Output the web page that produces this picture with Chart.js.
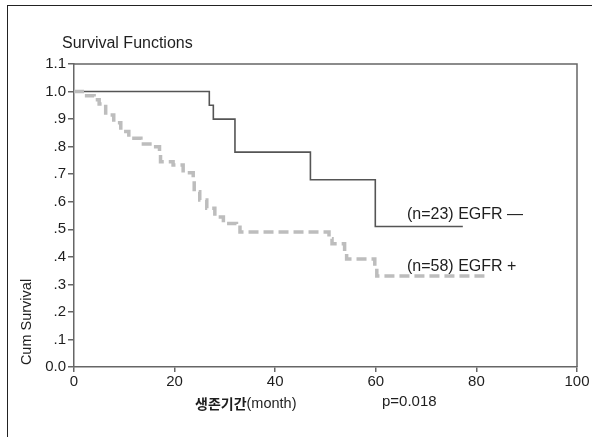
<!DOCTYPE html>
<html>
<head>
<meta charset="utf-8">
<script src="https://cdn.jsdelivr.net/npm/chart.js@4"></script>
<style>
  html, body { margin: 0; padding: 0; background: #fff; }
  #wrap { width: 592px; height: 437px; }
</style>
</head>
<body>
<div id="wrap"><canvas id="c" width="592" height="437"></canvas></div>
<script>
// ---- data ----
const egfrNegMonths   = [0, 26.9, 27.7, 32.0, 47.0, 59.9, 77.3];
const egfrNegSurvival = [1.0, 0.95, 0.90, 0.78, 0.68, 0.51, 0.51];

const egfrPosMonths   = [0, 2.0, 4.0, 5.0, 6.3, 7.9, 9.3, 10.9, 13.3, 15.8, 17.0, 17.2, 19.7, 21.7, 23.7, 23.9, 25.0, 26.4, 28.0, 29.7, 32.3, 33.0, 50.7, 51.3, 53.8, 54.2, 59.8, 60.2, 82.0];
const egfrPosSurvival = [1.0, 0.985, 0.97, 0.955, 0.915, 0.887, 0.855, 0.83, 0.81, 0.80, 0.78, 0.745, 0.733, 0.705, 0.68, 0.636, 0.606, 0.576, 0.545, 0.521, 0.515, 0.49, 0.466, 0.447, 0.42, 0.392, 0.36, 0.33, 0.33];

const xTickLabels = ["0", "20", "40", "60", "80", "100"];
const yTickLabels = ["0.0", ".1", ".2", ".3", ".4", ".5", ".6", ".7", ".8", ".9", "1.0", "1.1"];

const seriesLabels = ["(n=23) EGFR \u2014", "(n=58) EGFR +"];
const chartTitle = "Survival Functions";
const yTitle = "Cum Survival";
const xTitleBold = "생존기간";
const xTitleRest = "(month)";
const pValueText = "p=0.018";

const toPoints = (xs, ys) => xs.map((x, i) => ({ x: x, y: ys[i] }));

const FONT = "'Liberation Sans', Arial, Helvetica, sans-serif";

const decor = {
  id: 'decor',
  afterDraw(chart) {
    const ctx = chart.ctx;
    const a = chart.chartArea;
    const xs = chart.scales.x, ys = chart.scales.y;
    ctx.save();
    // outer frame (left and top edges visible)
    ctx.strokeStyle = '#222';
    ctx.lineWidth = 1;
    ctx.strokeRect(7.5, 5.5, 700, 600);
    // plot box top & right
    ctx.strokeStyle = '#666';
    ctx.lineWidth = 1.5;
    ctx.beginPath();
    ctx.moveTo(a.left, a.top);
    ctx.lineTo(a.right, a.top);
    ctx.lineTo(a.right, a.bottom);
    ctx.stroke();

    ctx.fillStyle = '#1e1e1e';
    ctx.textBaseline = 'middle';
    // title
    ctx.font = '16px ' + FONT;
    ctx.textAlign = 'left';
    ctx.fillText(chartTitle, 62, 44);
    // series labels
    ctx.font = '16px ' + FONT;
    ctx.fillText(seriesLabels[0], xs.getPixelForValue(66.2), ys.getPixelForValue(0.555));
    ctx.fillText(seriesLabels[1], xs.getPixelForValue(66.2), ys.getPixelForValue(0.363));
    // p value
    ctx.font = '15px ' + FONT;
    ctx.fillText(pValueText, 382, 402);
    // x title: bold Korean + regular
    ctx.font = 'bold 14px "Noto Sans CJK KR", ' + FONT;
    const w1 = ctx.measureText(xTitleBold).width;
    ctx.fillText(xTitleBold, 195, 404);
    ctx.font = '14.5px ' + FONT;
    ctx.fillText(xTitleRest, 195 + w1, 404);
    // y title rotated
    ctx.translate(27, 322);
    ctx.rotate(-Math.PI / 2);
    ctx.textAlign = 'center';
    ctx.font = '14.5px ' + FONT;
    ctx.fillText(yTitle, 0, 0);
    ctx.restore();
  }
};

new Chart(document.getElementById('c'), {
  type: 'line',
  data: {
    datasets: [
      {
        label: seriesLabels[1],
        data: toPoints(egfrPosMonths, egfrPosSurvival),
        stepped: true,
        borderColor: '#bdbdbd',
        borderWidth: 3.5,
        borderDash: [10, 5],
        pointRadius: 0,
        fill: false
      },
      {
        label: seriesLabels[0],
        data: toPoints(egfrNegMonths, egfrNegSurvival),
        stepped: true,
        borderColor: '#555',
        borderWidth: 1.6,
        pointRadius: 0,
        fill: false
      }
    ]
  },
  options: {
    responsive: false,
    animation: false,
    layout: { padding: { left: 0, right: 15, top: 64, bottom: 0 } },
    plugins: { legend: { display: false }, tooltip: { enabled: false }, title: { display: false } },
    scales: {
      x: {
        type: 'linear',
        min: 0, max: 100,
        afterFit(s) { s.height = 70; },
        ticks: {
          stepSize: 20,
          padding: 1,
          color: '#1e1e1e',
          font: { family: FONT, size: 15 },
          maxRotation: 0,
          callback: (v) => { const i = Math.round(v / 20); return xTickLabels[i] !== undefined ? xTickLabels[i] : ''; }
        },
        grid: { display: true, drawOnChartArea: false, drawTicks: true, tickLength: 5, color: '#666', lineWidth: 1.5 },
        border: { display: true, color: '#666', width: 1.5 }
      },
      y: {
        type: 'linear',
        min: 0, max: 1.1,
        afterFit(s) { s.width = 74; },
        ticks: {
          stepSize: 0.1,
          padding: 2,
          color: '#1e1e1e',
          font: { family: FONT, size: 15 },
          callback: (v) => { const i = Math.round(v * 10); return yTickLabels[i] !== undefined ? yTickLabels[i] : ''; }
        },
        grid: { display: true, drawOnChartArea: false, drawTicks: true, tickLength: 6, color: '#666', lineWidth: 1.5 },
        border: { display: true, color: '#666', width: 1.5 }
      }
    }
  },
  plugins: [decor]
});
</script>
</body>
</html>
